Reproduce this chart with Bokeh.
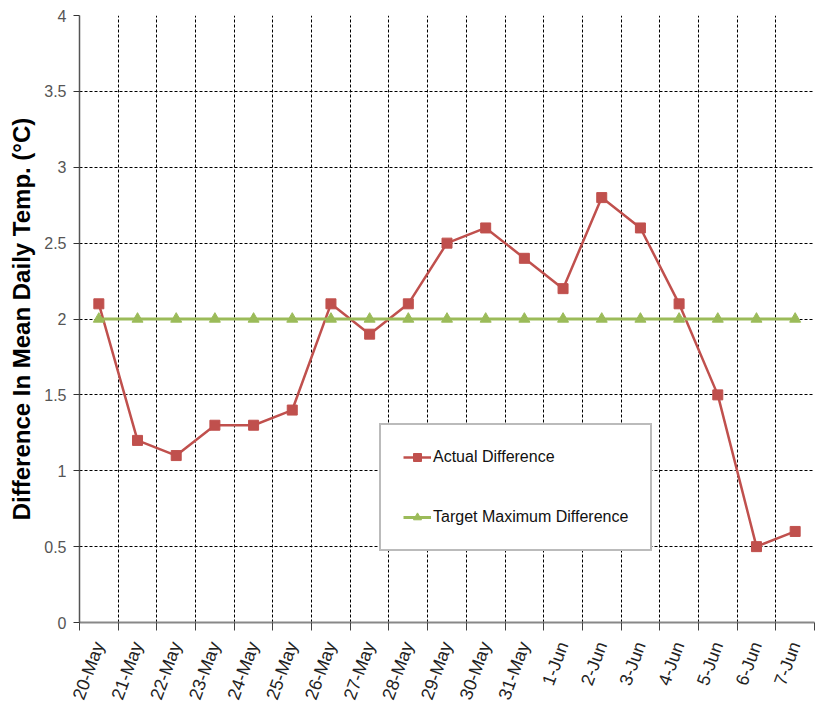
from bokeh.plotting import figure
from bokeh.models import (FixedTicker, NumeralTickFormatter, Legend, LegendItem,
                          Grid, ColumnDataSource)
from bokeh.embed import file_html
from bokeh.resources import INLINE

categories = ["20-May", "21-May", "22-May", "23-May", "24-May", "25-May", "26-May",
              "27-May", "28-May", "29-May", "30-May", "31-May", "1-Jun", "2-Jun",
              "3-Jun", "4-Jun", "5-Jun", "6-Jun", "7-Jun"]
actual = [2.1, 1.2, 1.1, 1.3, 1.3, 1.4, 2.1, 1.9, 2.1, 2.5, 2.6, 2.4, 2.2, 2.8,
          2.6, 2.1, 1.5, 0.5, 0.6]
target = [2.0] * 19
y_ticks = [0, 0.5, 1, 1.5, 2, 2.5, 3, 3.5, 4]

n = len(categories)
centers = [i + 0.5 for i in range(n)]
bounds = list(range(n + 1))
src = ColumnDataSource(dict(x=centers, actual=actual, target=target))

NARROW = "'Liberation Sans Narrow', 'Arial Narrow', 'Liberation Sans', sans-serif"

p = figure(width=815, height=709, x_range=(0, n), y_range=(0, 4),
           output_backend="svg", toolbar_location=None,
           min_border_left=79, min_border_right=1, min_border_top=15,
           min_border_bottom=87)
p.outline_line_color = None
p.background_fill_color = "white"

# grids
p.xgrid.visible = False
p.ygrid.ticker = FixedTicker(ticks=y_ticks)
p.ygrid.grid_line_color = "black"
p.ygrid.grid_line_dash = "3 2"
p.ygrid.grid_line_width = 1
vgrid = Grid(dimension=0, ticker=FixedTicker(ticks=bounds), grid_line_color="black",
             grid_line_dash="3 2", grid_line_width=1)
p.add_layout(vgrid)

# x axis
xa = p.xaxis[0]
xa.ticker = FixedTicker(ticks=centers, minor_ticks=bounds)
xa.major_label_overrides = {c: lab for c, lab in zip(centers, categories)}
xa.major_tick_line_color = None
xa.minor_tick_line_color = "#444444"
xa.minor_tick_out = 8
xa.minor_tick_in = 0
xa.axis_line_color = "#888888"
xa.axis_line_width = 2
xa.major_label_orientation = 1.22
xa.major_label_text_font = NARROW
xa.major_label_text_font_size = "18px"
xa.major_label_text_color = "#222222"
xa.major_label_standoff = 12

# y axis
ya = p.yaxis[0]
ya.ticker = FixedTicker(ticks=y_ticks)
ya.formatter = NumeralTickFormatter(format="0.[0]")
ya.minor_tick_line_color = None
ya.major_tick_out = 6
ya.major_tick_in = 0
ya.major_tick_line_color = "#333333"
ya.axis_line_color = "#555555"
ya.axis_line_width = 1.5
ya.major_label_text_font = NARROW
ya.major_label_text_font_size = "16px"
ya.major_label_text_color = "#555555"
ya.major_label_standoff = 7
ya.axis_label = "Difference In Mean Daily Temp. (°C)"
ya.axis_label_text_font = "'Liberation Sans', Arial, sans-serif"
ya.axis_label_text_font_style = "bold"
ya.axis_label_text_font_size = "24px"
ya.axis_label_text_color = "black"
ya.axis_label_standoff = 6

red = "#C0504D"
green = "#9BBB59"
l1 = p.line("x", "actual", source=src, line_color=red, line_width=2.5)
m1 = p.scatter("x", "actual", source=src, marker="square", size=10,
               fill_color=red, line_color=red)
l2 = p.line("x", "target", source=src, line_color=green, line_width=3)
m2 = p.scatter("x", "target", source=src, marker="triangle", size=11,
               fill_color=green, line_color=green)

legend = Legend(items=[LegendItem(label="Actual Difference", renderers=[l1, m1]),
                       LegendItem(label="Target Maximum Difference", renderers=[l2, m2])],
                location=(300, 71))
legend.border_line_color = "#777777"
legend.border_line_width = 2
legend.background_fill_color = "white"
legend.background_fill_alpha = 1
legend.padding = 22
legend.spacing = 40
legend.margin = 0
legend.glyph_width = 28
legend.glyph_height = 20
legend.label_height = 20
legend.label_standoff = 2
legend.label_text_font = NARROW
legend.label_text_font_size = "16px"
legend.label_text_color = "#111111"
p.add_layout(legend)

open("out.html", "w").write(file_html(p, INLINE))
